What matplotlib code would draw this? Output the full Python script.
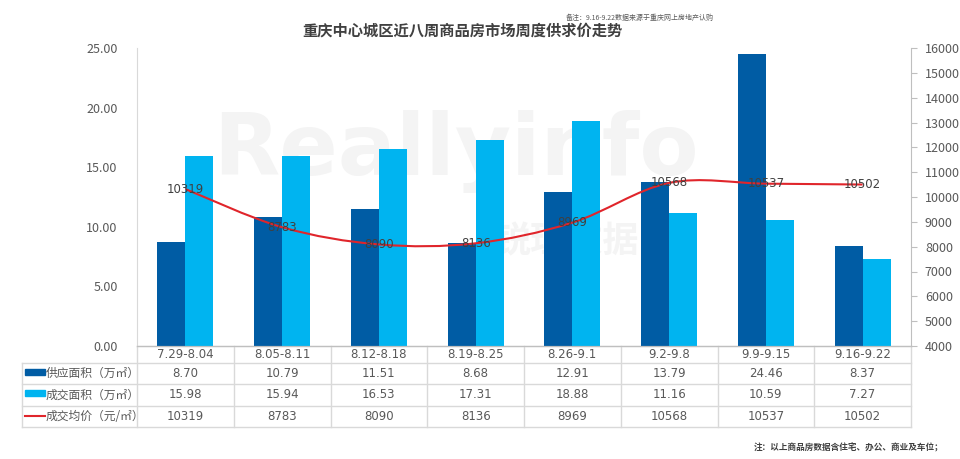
import matplotlib
matplotlib.use("Agg")
import matplotlib.pyplot as plt
from matplotlib.path import Path
from matplotlib.patches import PathPatch, Rectangle
from matplotlib.lines import Line2D
import matplotlib.transforms as mtransforms

plt.rcParams["font.family"] = ["Noto Sans CJK SC", "DejaVu Sans"]

weeks = ["7.29-8.04", "8.05-8.11", "8.12-8.18", "8.19-8.25",
         "8.26-9.1", "9.2-9.8", "9.9-9.15", "9.16-9.22"]
supply = [8.70, 10.79, 11.51, 8.68, 12.91, 13.79, 24.46, 8.37]
deal = [15.98, 15.94, 16.53, 17.31, 18.88, 11.16, 10.59, 7.27]
price = [10319, 8783, 8090, 8136, 8969, 10568, 10537, 10502]

row_names = ["供应面积（万㎡）", "成交面积（万㎡）", "成交均价（元/㎡）"]

DARK = "#005ca4"
LIGHT = "#00b4f0"
RED = "#e0252b"
GREY = "#595959"
GRID = "#d9d9d9"

fig = plt.figure(figsize=(9.6, 4.59), dpi=100)
ax = fig.add_axes([137 / 960, 1 - 346 / 459, 774 / 960, 298 / 459])
ax2 = ax.twinx()

# faint watermark, behind the axes
fig.text(0.475, 0.67, "Reallyinfo", fontsize=62, fontweight="bold",
         color="#f4f4f4", ha="center", va="center", family="DejaVu Sans",
         zorder=-2)
fig.text(0.59, 0.475, "锐理数据", fontsize=26, fontweight="bold",
         color="#f4f4f4", ha="center", va="center", zorder=-2)
ax.patch.set_alpha(0)
ax2.patch.set_alpha(0)

n = len(weeks)
xs = list(range(n))
w = 0.29
ax.bar([x - w / 2 for x in xs], supply, width=w, color=DARK, zorder=2)
ax.bar([x + w / 2 for x in xs], deal, width=w, color=LIGHT, zorder=2)
ax.set_xlim(-0.5, n - 0.5)
ax.set_ylim(0, 25)
ax.set_yticks([0, 5, 10, 15, 20, 25])
ax.set_yticklabels([f"{v:.2f}" for v in [0, 5, 10, 15, 20, 25]])
ax.tick_params(axis="y", length=0, pad=14, labelsize=9, labelcolor=GREY)
ax.set_xticks([])

ax2.set_ylim(4000, 16000)
ax2.set_yticks(range(4000, 16001, 1000))
ax2.tick_params(axis="y", length=4, width=0.8, color="#bfbfbf", pad=6,
                labelsize=9, labelcolor=GREY)

for a in (ax, ax2):
    a.spines["top"].set_visible(False)
    a.spines["left"].set_color(GRID)
    a.spines["right"].set_color("#bfbfbf")
    a.spines["bottom"].set_color("#bfbfbf")
ax.spines["right"].set_visible(False)
ax2.spines["left"].set_visible(False)

# smooth price line (Bezier through the data points)
verts = [(xs[0], price[0])]
codes = [Path.MOVETO]
for i in range(n - 1):
    p0 = (xs[max(i - 1, 0)], price[max(i - 1, 0)])
    p1 = (xs[i], price[i])
    p2 = (xs[i + 1], price[i + 1])
    p3 = (xs[min(i + 2, n - 1)], price[min(i + 2, n - 1)])
    c1 = (p1[0] + (p2[0] - p0[0]) / 6, p1[1] + (p2[1] - p0[1]) / 6)
    c2 = (p2[0] - (p3[0] - p1[0]) / 6, p2[1] - (p3[1] - p1[1]) / 6)
    verts += [c1, c2, p2]
    codes += [Path.CURVE4] * 3
ax2.add_patch(PathPatch(Path(verts, codes), facecolor="none", edgecolor=RED,
                        lw=1.5, zorder=3))
for x, v in zip(xs, price):
    ax2.text(x, v, str(v), ha="center", va="center", fontsize=8.5,
             color="#404040", family="DejaVu Sans", zorder=4)

# data table under the plot
tr = mtransforms.blended_transform_factory(ax.transData, ax.transAxes)
px = 1 / 298  # one pixel in axes-y units
row_y = [0, -17 * px, -38 * px, -60 * px, -81 * px]
left = (22 - 137) / 774
lkw = dict(color=GRID, lw=1, clip_on=False, zorder=1)
ax.add_line(Line2D([-0.5, n - 0.5], [row_y[0]] * 2, transform=tr, **lkw))
for y in row_y[1:]:
    ax.add_line(Line2D([left, 1], [y, y], transform=ax.transAxes, **lkw))
for i in range(n + 1):
    ax.add_line(Line2D([i - 0.5] * 2, [row_y[0], row_y[-1]], transform=tr, **lkw))
ax.add_line(Line2D([left] * 2, [row_y[1], row_y[-1]], transform=ax.transAxes, **lkw))

for x, lab in zip(xs, weeks):
    ax.text(x, (row_y[0] + row_y[1]) / 2, lab, transform=tr, ha="center",
            va="center", fontsize=8.5, color=GREY, family="DejaVu Sans")
rows = [[f"{v:.2f}" for v in supply], [f"{v:.2f}" for v in deal],
        [str(v) for v in price]]
for r, vals in enumerate(rows):
    yc = (row_y[r + 1] + row_y[r + 2]) / 2
    for x, s in zip(xs, vals):
        ax.text(x, yc, s, transform=tr, ha="center", va="center",
                fontsize=8.5, color=GREY, family="DejaVu Sans")
    sx = left + 3 / 774
    if r < 2:
        ax.add_patch(Rectangle((sx, yc - 1 * px), 20 / 774, 6 * px,
                               transform=ax.transAxes, clip_on=False,
                               color=DARK if r == 0 else LIGHT))
    else:
        ax.add_line(Line2D([sx, sx + 20 / 774], [yc + 1 * px] * 2,
                           transform=ax.transAxes, color=RED, lw=1.5,
                           clip_on=False))
    ax.text(left + 24 / 774, yc, row_names[r], transform=ax.transAxes,
            ha="left", va="center", fontsize=8.5, color=GREY)

fig.text(462 / 960, 1 - 31 / 459, "重庆中心城区近八周商品房市场周度供求价走势",
         ha="center", va="center", fontsize=11, fontweight="bold",
         color="#404040")
fig.text(640 / 960, 1 - 18 / 459, "备注：9.16-9.22数据来源于重庆网上房地产认购",
         ha="center", va="center", fontsize=5.0, color=GREY)
fig.text(943 / 960, 1 - 448 / 459, "注：以上商品房数据含住宅、办公、商业及车位；",
         ha="right", va="center", fontsize=6.2, fontweight="bold",
         color="#404040")

fig.savefig("out.png", dpi=100)
